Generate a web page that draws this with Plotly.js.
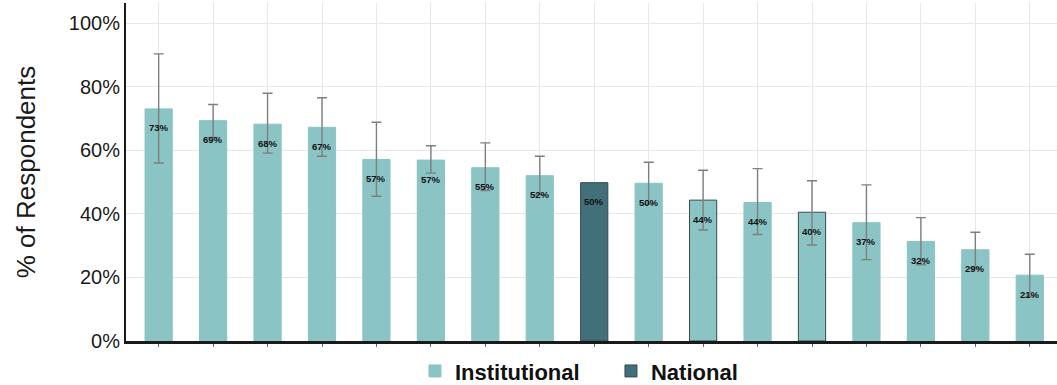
<!DOCTYPE html>
<html>
<head>
<meta charset="utf-8">
<script src="https://cdn.plot.ly/plotly-3.0.1.min.js"></script>
<style>html,body{margin:0;padding:0;background:#fff;}#chart{width:1057px;height:385px;}</style>
</head>
<body>
<div id="chart"></div>
<script>
const groups = ["Institutional","Institutional","Institutional","Institutional","Institutional","Institutional","Institutional","Institutional","National","Institutional","Institutional","Institutional","Institutional","Institutional","Institutional","Institutional","Institutional"];
const values = [73, 69.3, 68.2, 67.2, 57.1, 56.9, 54.5, 52.0, 49.8, 49.6, 44.3, 43.6, 40.5, 37.2, 31.3, 28.7, 20.7];
const labels = ["73%","69%","68%","67%","57%","57%","55%","52%","50%","50%","44%","44%","40%","37%","32%","29%","21%"];
const upper = [90.3, 74.4, 77.9, 76.5, 68.8, 61.4, 62.3, 58.1, null, 56.2, 53.7, 54.2, 50.4, 49.1, 38.8, 34.2, 27.3];
const lower = [56.0, 64.0, 59.1, 58.1, 45.5, 52.8, 47.3, 46.0, null, 43.0, 34.9, 33.5, 30.2, 25.6, 24.0, 23.0, 14.0];
const outlined = [false,false,false,false,false,false,false,false,true,false,true,false,true,false,false,false,false];
const yTicks = [0, 20, 40, 60, 80, 100];

const colors = {Institutional: "#8ac4c4", National: "#41707a"};
const idx = values.map((_, i) => i);

function makeTrace(name) {
  const ii = idx.filter(i => groups[i] === name);
  const hasErr = ii.some(i => upper[i] !== null);
  const t = {
    type: "bar",
    name: name,
    x: ii,
    y: ii.map(i => values[i]),
    width: 0.5,
    marker: {
      color: colors[name],
      line: {color: ii.map(i => outlined[i] ? "#3a4a4d" : colors[name]), width: 1}
    },
    hoverinfo: "skip"
  };
  if (hasErr) {
    t.error_y = {
      type: "data", symmetric: false,
      array: ii.map(i => upper[i] - values[i]),
      arrayminus: ii.map(i => values[i] - lower[i]),
      color: "#7f7f7f", thickness: 1.4, width: 5
    };
  }
  return t;
}

const traces = [makeTrace("Institutional"), makeTrace("National")];

const annotations = idx.map(i => ({
  x: i, y: values[i], xref: "x", yref: "y",
  text: labels[i], showarrow: false, yshift: -19,
  font: {family: "Liberation Sans, Arial, sans-serif", size: 9.5, color: "#111", weight: "bold"}
}));

const layout = {
  width: 1057, height: 385,
  margin: {l: 126, r: 0, t: 3, b: 44, autoexpand: false},
  paper_bgcolor: "#fff", plot_bgcolor: "#fff",
  barmode: "overlay",
  showlegend: true,
  legend: {
    orientation: "h", x: 0.3104, xanchor: "left", y: -0.027, yanchor: "top",
    entrywidth: 151, entrywidthmode: "pixels",
    font: {family: "Liberation Sans, Arial, sans-serif", size: 22, color: "#111", weight: "bold"},
    traceorder: "normal"
  },
  xaxis: {
    range: [-0.6, 16.5],
    tickvals: idx, ticktext: idx.map(() => ""),
    ticks: "outside", ticklen: 3, tickcolor: "#666", tickwidth: 1,
    showgrid: true, gridcolor: "#e8e8e8", gridwidth: 1,
    showline: true, linecolor: "#1a1a1a", linewidth: 2.5,
    zeroline: false, fixedrange: true
  },
  yaxis: {
    range: [0, 106.3],
    tickvals: yTicks, ticktext: yTicks.map(v => v + "%"),
    tickfont: {family: "Liberation Sans, Arial, sans-serif", size: 20, color: "#1a1a1a"},
    ticks: "", ticklen: 0,
    showgrid: true, gridcolor: "#e8e8e8", gridwidth: 1,
    showline: true, linecolor: "#1a1a1a", linewidth: 2,
    zeroline: false, fixedrange: true,
    title: {text: "% of Respondents", standoff: 26,
      font: {family: "Liberation Sans, Arial, sans-serif", size: 26, color: "#1a1a1a"}}
  },
  annotations: annotations
};

Plotly.newPlot("chart", traces, layout, {displayModeBar: false, staticPlot: true});
</script>
</body>
</html>
